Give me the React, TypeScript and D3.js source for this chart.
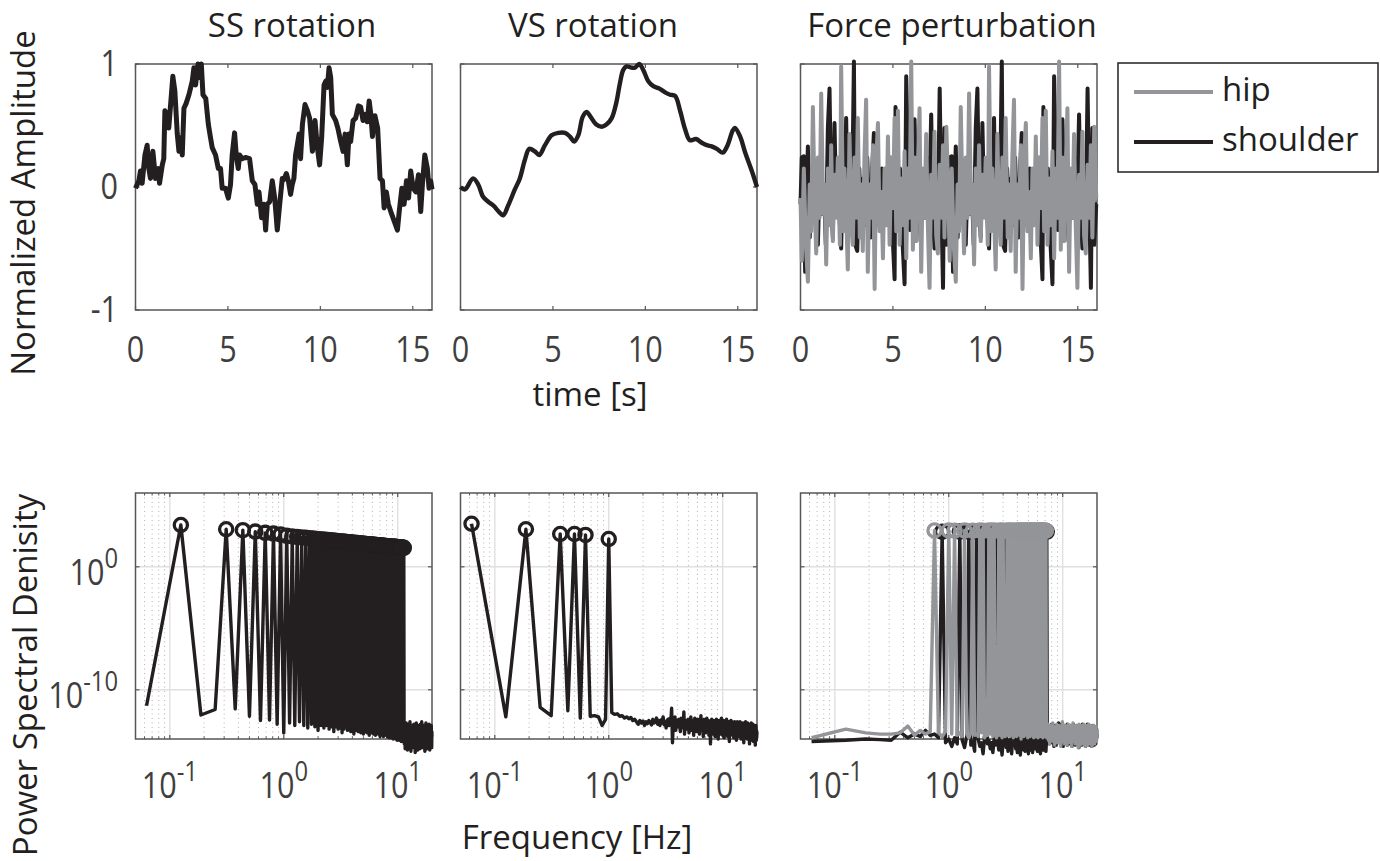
import React from "react";
import * as d3 from "d3";

// ---------------- DATA ----------------
const T_MAX = 16.04; // s
const FREQ_STEP = 0.0625; // Hz, spectral bin width
const N_BINS = 320;
const F_MIN = 0.05;
const F_MAX = 20;

const titles = ["SS rotation", "VS rotation", "Force perturbation"];
const timeTicks = [0, 5, 10, 15];
const ampTicks = [-1, 0, 1];
const freqTicks = [0.1, 1, 10];
const freqTickExp = ["-1", "0", "1"];
const psdTicks = [1e-10, 1];
const psdTickExp = ["-10", "0"];
const legendLabels = ["hip", "shoulder"];

// SS rotation, time series
const ssT = [0,0.18,0.27,0.36,0.51,0.63,0.72,0.81,0.94,1.08,1.23,1.30,1.45,1.53,1.59,1.71,1.80,2.02,2.13,2.26,2.35,2.44,2.53,2.62,2.74,2.89,3.07,3.16,3.25,3.38,3.49,3.56,3.65,3.80,3.94,4.06,4.15,4.33,4.48,4.60,4.69,4.87,5.02,5.14,5.23,5.36,5.45,5.56,5.63,5.77,5.95,6.17,6.32,6.46,6.59,6.68,6.82,6.95,7.04,7.13,7.26,7.40,7.53,7.67,7.80,7.94,
  8.03,8.16,8.27,8.39,8.48,8.57,8.66,8.75,8.85,8.93,9.03,9.17,9.30,9.42,9.57,9.71,9.84,9.96,10.07,10.20,10.29,10.38,10.47,10.56,10.65,10.83,10.96,11.10,11.23,11.34,11.46,11.55,11.64,11.77,11.91,12.06,12.18,12.31,12.42,12.54,12.64,12.73,12.82,12.95,13.10,13.23,13.36,13.45,13.57,13.68,13.81,14.00,14.17,14.26,14.41,14.53,14.66,14.77,14.89,15.02,15.17,15.31,15.43,15.52,15.65,15.79,15.88,15.97,16.04];
const ssV = [-0.01,0.05,0.13,0.03,0.26,0.34,0.15,0.07,0.29,0.07,0.15,0.03,0.18,0.23,0.62,0.59,0.48,0.90,0.78,0.43,0.29,0.40,0.26,0.64,0.68,0.75,0.86,0.97,0.83,1.0,0.89,1.0,0.75,0.72,0.51,0.40,0.32,0.26,0.15,0.15,-0.01,-0.01,-0.09,0.02,0.26,0.44,0.26,0.15,0.26,0.23,0.24,0.23,0.05,0.02,-0.14,-0.04,-0.25,-0.14,-0.35,-0.14,-0.12,0.05,-0.09,-0.35,-0.14,0.07,
  0.06,0.11,0.05,-0.06,0.02,0.07,0.26,0.34,0.43,0.23,0.51,0.67,0.62,0.56,0.29,0.54,0.32,0.18,0.40,0.83,0.86,0.81,0.97,0.89,0.59,0.54,0.47,0.37,0.29,0.43,0.18,0.43,0.37,0.54,0.56,0.66,0.65,0.54,0.59,0.53,0.70,0.59,0.41,0.58,0.48,0.07,0.05,-0.17,-0.04,-0.14,-0.20,-0.28,-0.35,-0.21,-0.01,-0.14,0.05,-0.09,0.13,-0.01,-0.04,0.10,-0.20,0.02,0.26,0.15,-0.01,0.05,-0.02];

// VS rotation, time series
const vsT = [0,0.24,0.68,0.96,1.22,1.5,1.77,2.13,2.31,2.58,2.94,3.21,3.48,3.72,4.02,4.26,4.57,4.93,5.29,5.65,5.92,6.15,6.37,6.61,6.82,7.04,7.33,7.64,7.91,8.18,8.42,8.62,8.8,8.98,9.25,9.43,9.67,9.89,10.16,10.43,10.76,11.07,11.34,11.61,11.88,12.15,12.41,12.74,13.05,13.32,13.59,13.87,14.19,14.45,14.73,14.85,15.13,15.4,15.76,16.04];
const vsV = [0,-0.02,0.07,0.02,-0.08,-0.12,-0.15,-0.21,-0.23,-0.15,-0.02,0.07,0.22,0.31,0.29,0.26,0.34,0.42,0.44,0.44,0.41,0.37,0.42,0.57,0.61,0.57,0.51,0.49,0.51,0.56,0.68,0.84,0.95,0.98,0.97,0.97,1.0,0.95,0.86,0.82,0.80,0.77,0.75,0.74,0.62,0.47,0.38,0.39,0.36,0.34,0.33,0.31,0.28,0.34,0.46,0.48,0.41,0.28,0.13,0.0];

// Force perturbation, one 8 s period (the signal repeats)
const FORCE_PERIOD = 8;
const hipT = [0,0.07,0.18,0.29,0.40,0.50,0.58,0.67,0.76,0.85,0.94,1.03,1.12,1.23,1.30,1.39,1.48,1.59,1.66,1.75,1.84,1.93,2.02,2.13,2.20,2.31,2.38,2.47,2.56,2.65,2.74,2.83,2.92,3.01,3.10,3.21,3.28,3.37,3.46,3.55,3.64,3.73,3.82,3.92,4.01,4.10,4.19,4.28,4.37,4.46,4.55,4.64,4.73,4.82,4.91,5.00,5.09,5.18,5.27,5.36,5.45,5.54,5.63,5.72,5.81,5.90,5.99,6.08,6.17,6.26,6.35,6.44,6.53,6.62,6.71,6.80,6.89,6.98,7.07,7.16,7.25,7.34,7.43,7.53,7.62,7.71,7.79,7.89];
const hipV = [-0.09,-0.60,0.15,-0.47,-0.77,0.02,-0.36,0.65,-0.09,-0.54,0.24,-0.25,0.76,-0.22,0.02,-0.63,0.15,-0.31,0.34,-0.44,0.10,-0.25,0.24,-0.47,0.98,-0.36,0.15,-0.22,-0.67,0.43,-0.25,-0.47,0.24,-0.25,0.56,-0.41,0.02,-0.52,0.24,0.71,-0.69,0.02,-0.25,0.34,-0.83,0.24,0.52,-0.36,-0.04,-0.58,0.15,-0.31,0.41,-0.47,0.24,-0.17,0.56,-0.36,0.62,-0.47,0.07,-0.31,0.29,-0.58,0.15,-0.25,1.02,-0.51,0.24,-0.44,0.15,0.64,-0.69,0.15,-0.25,0.43,-0.31,-0.82,0.10,-0.25,0.45,-0.39,-0.54,0.18,-0.25,0.34,-0.41,0.49];
const shT = [0,0.07,0.18,0.25,0.32,0.40,0.50,0.61,0.72,0.83,0.94,1.05,1.15,1.26,1.37,1.48,1.57,1.66,1.75,1.84,1.93,2.02,2.11,2.20,2.29,2.38,2.47,2.56,2.67,2.78,2.89,2.96,3.07,3.18,3.28,3.39,3.50,3.61,3.70,3.79,3.88,3.97,4.08,4.19,4.29,4.40,4.51,4.62,4.73,4.84,4.96,5.09,5.14,5.27,5.38,5.49,5.63,5.72,5.81,5.92,6.03,6.17,6.28,6.39,6.50,6.60,6.71,6.82,6.93,7.07,7.16,7.25,7.36,7.43,7.53,7.62,7.71,7.79,7.89];
const shV = [-0.14,0.24,0.25,-0.69,-0.09,0.33,-0.41,0.15,-0.25,0.10,-0.47,0.15,-0.22,0.02,-0.47,0.48,0.80,-0.09,-0.41,0.52,-0.17,0.15,-0.25,-0.50,0.24,-0.17,0.56,-0.31,0.15,-0.22,1.02,-0.47,-0.52,0.15,-0.22,0.07,-0.31,0.24,-0.17,-0.41,0.15,0.44,-0.31,0.07,-0.22,0.15,-0.31,0.07,-0.12,0.24,-0.31,-0.75,0.65,-0.25,0.15,-0.35,-0.79,0.90,0.24,-0.35,0.07,0.55,-0.25,0.15,-0.44,0.07,-0.25,0.24,-0.35,0.59,-0.20,-0.50,0.15,-0.25,0.80,-0.14,-0.82,0.48,-0.47];

// PSD, log10 values at bins k = 1..320 (f = k * FREQ_STEP)
const ssPsdLog = [
  -11.3,3.4,-12.05,-11.6,3.05,-11.55,2.98,-12.15,2.86,-12.5,
  2.76,-12.45,2.7,-12.8,2.63,-13.5,2.52,-12.7,2.47,-12.9,
  2.43,-12.6,2.39,-12.9,2.36,-13.1,2.33,-12.8,2.30,-13.0,
  2.27,-13.3,2.24,-12.9,2.22,-13.1,2.20,-12.9,2.17,-13.2,
  2.15,-13.0,2.13,-13.4,2.12,-13.0,2.10,-13.2,2.08,-13.1,
  2.06,-13.5,2.05,-13.2,2.03,-13.0,2.02,-13.3,2.00,-13.1,
  1.99,-13.4,1.98,-13.2,1.96,-13.6,1.95,-13.3,1.94,-13.1,
  1.93,-13.4,1.92,-13.2,1.90,-13.5,1.89,-13.3,1.88,-13.6,
  1.87,-13.4,1.86,-13.2,1.85,-13.5,1.84,-13.3,1.83,-13.7,
  1.82,-13.4,1.82,-13.5,1.81,-13.3,1.80,-13.6,1.79,-13.4,
  1.78,-13.7,1.77,-13.5,1.77,-13.3,1.76,-13.6,1.75,-13.5,
  1.74,-13.8,1.74,-13.4,1.73,-13.6,1.72,-13.5,1.71,-13.8,
  1.71,-13.6,1.70,-13.4,1.69,-13.7,1.69,-13.5,1.68,-13.8,
  1.67,-13.6,1.67,-13.9,1.66,-13.6,1.66,-13.7,1.65,-13.9,
  1.64,-13.6,1.64,-13.8,1.63,-14.0,1.63,-13.7,1.62,-13.9,
  1.62,-13.7,1.61,-14.0,1.61,-13.8,1.60,-14.1,1.60,-13.8,
  1.59,-14.0,1.58,-13.9,1.58,-14.1,1.57,-13.8,1.57,-14.0,
  1.56,-14.2,1.56,-13.9,1.55,-14.1,1.55,-14.0,1.55,-14.2,
  1.54,
  -13.2,-14.4,-13.5,-12.9,-14.8,-13.7,-13.3,-14.1,-12.7,-14.5,
  -13.6,-13.9,-13.1,-14.9,-13.4,-13.8,-12.8,-14.2,-13.5,-14.6,
  -13.2,-13.9,-13.6,-12.6,-14.3,-13.7,-13.4,-15.0,-13.3,-13.8,
  -13.1,-14.4,-13.6,-12.9,-14.1,-13.5,-14.7,-13.2,-13.9,-13.4,
  -12.8,-14.5,-13.7,-13.3,-14.2,-13.6,-15.1,-13.4,-13.0,-14.0,
  -13.5,-12.7,-14.6,-13.8,-13.3,-14.1,-13.6,-13.2,-14.9,-13.5,
  -13.9,-12.9,-14.3,-13.7,-13.4,-14.5,-13.1,-13.8,-13.5,-14.8,
  -13.3,-12.8,-14.0,-13.6,-13.9,-13.2,-14.4,-13.7,-12.6,-14.2,
  -13.5,-13.8,-13.1,-14.7,-13.4,-13.9,-13.3,-14.1,-12.9,-14.6,
  -13.6,-13.2,-14.3,-13.7,-13.5,-15.0,-13.4,-13.0,-14.2,-13.8,
  -13.3,-12.7,-14.5,-13.6,-13.9,-13.2,-14.0,-13.5,-14.8,-13.4,
  -12.9,-14.1,-13.7,-13.3,-14.4,-13.6,-13.1,-13.9,-14.6,-13.5,
  -12.8,-14.2,-13.7,-13.4,-14.9,-13.3,-13.8,-13.0,-14.3,-13.6,
  -13.2,-14.5,-13.7,-12.9,-14.0,-13.5,-14.7,-13.4,-13.8
];

const vsPsdLog = [
  3.5,-12.2,3.05,-11.43,-12.1,2.67,-11.7,2.67,-12.3,2.59,
  -12.15,-12.1,-12.2,-12.9,-12.4,2.26,
  -11.85,-12.0,-11.95,-12.15,-12.1,-12.3,-12.2,-12.35,-12.25,-12.5,
  -12.4,-12.6,-12.8,-12.5,-12.7,-12.55,-12.9,-12.6,-12.75,-12.5,
  -12.65,-12.85,-12.4,-12.7,-12.6,-12.3,-12.8,-12.5,-12.9,-12.45,
  -12.7,-12.2,-12.85,-12.6,-13.1,-12.5,-12.4,-12.9,-12.3,-12.7,
  -11.5,-14.3,-12.6,-12.9,-12.2,-13.3,-12.7,-12.5,-13.0,-12.4,
  -12.9,-13.4,-12.3,-12.8,-12.6,-13.1,-11.8,-13.6,-12.7,-12.9,
  -12.5,-13.2,-12.8,-12.4,-13.5,-12.7,-12.9,-12.2,-13.3,-12.6,
  -13.0,-12.5,-13.7,-12.8,-12.3,-13.1,-12.9,-12.6,-13.4,-12.7,
  -12.4,-13.2,-12.8,-13.6,-12.5,-12.9,-12.1,-13.3,-12.7,-13.0,
  -12.6,-13.8,-12.8,-12.4,-13.1,-12.9,-13.5,-12.6,-13.0,-12.3,
  -13.4,-12.8,-13.1,-12.5,-13.7,-12.9,-12.6,-13.2,-14.4,-12.8,
  -13.0,-12.4,-13.5,-12.9,-13.2,-12.7,-13.6,-12.5,-13.1,-12.9,
  -13.8,-12.6,-13.0,-13.3,-12.4,-13.5,-12.9,-13.1,-12.7,-14.0,
  -12.8,-13.2,-12.5,-13.4,-13.0,-12.6,-13.6,-12.9,-13.2,-12.3,
  -13.5,-12.8,-13.1,-13.7,-12.7,-13.0,-12.5,-13.4,-13.9,-12.8,
  -13.2,-12.6,-13.5,-13.0,-12.9,-13.6,-12.4,-13.3,-13.1,-12.7,
  -13.8,-12.9,-13.2,-12.6,-13.5,-13.0,-14.2,-12.8,-13.3,-12.7,
  -13.4,-13.1,-12.5,-13.6,-12.9,-13.3,-13.0,-12.6,-13.7,-12.8,
  -13.2,-13.5,-12.7,-13.9,-13.0,-12.8,-13.4,-12.6,-13.3,-13.1,
  -12.9,-13.6,-12.7,-13.2,-14.1,-12.8,-13.4,-13.0,-12.6,-13.5,
  -13.1,-12.9,-13.7,-12.7,-13.3,-13.0,-13.8,-12.8,-13.4,-13.2,
  -12.6,-13.6,-13.0,-13.3,-12.8,-14.0,-13.1,-12.7,-13.5,-13.2,
  -12.9,-13.8,-13.0,-13.4,-12.7,-13.6,-13.1,-12.9,-14.3,-13.2,
  -12.8,-13.5,-13.0,-13.7,-12.9,-13.3,-13.1,-12.6,-13.9,-13.2,
  -13.4,-12.8,-13.6,-13.0,-13.3,-12.9,-14.0,-13.2,-12.7,-13.5,
  -13.1,-13.8,-12.9,-13.4,-13.2,-12.8,-13.7,-13.0,-14.4,-13.3,
  -12.9,-13.6,-13.1,-13.4,-12.8,-13.9,-13.2,-13.5,-12.7,-13.7,
  -13.3,-13.0,-14.1,-13.4,-12.9,-13.6,-13.2,-13.8,-12.8,-13.5,
  -13.3,-14.2,-13.0,-13.7,-13.4,-12.9,-13.9,-13.5,-13.2,-14.0,
  -13.4,-13.1,-14.5,-13.6,-13.3,-13.8,-12.9,-13.7,-13.5,-14.1,
  -13.3,-13.9,-13.6,-13.4
];

const hipPsdLog = [
  -13.9,-13.2,-13.5,-13.6,-13.6,-13.5,-12.95,-13.7,-13.3,-13.6,
  -13.4,2.95,-13.5,-13.8,-13.4,2.95,-13.6,2.93,-13.7,-13.5,
  -13.8,2.95,-13.6,-13.9,-13.5,2.94,-13.7,-13.6,-13.8,2.95,
  -13.5,2.93,-13.9,-13.6,-13.7,2.95,-13.6,2.94,-13.8,2.95,
  -13.5,-13.9,-13.6,2.93,-13.7,2.95,-13.9,2.94,-13.6,-13.8,
  -13.5,2.95,-13.7,2.93,-13.8,2.95,-13.6,2.94,-13.9,-13.7,
  -13.5,2.95,-13.8,2.93,-13.6,2.95,-13.7,2.94,-14.0,2.95,
  -13.6,2.93,-13.8,2.95,-13.5,2.94,-13.7,2.95,-13.9,2.93,
  -13.6,2.95,-13.8,2.94,-13.5,2.95,-13.7,2.93,-13.9,2.95,
  -13.6,2.94,-13.8,-13.7,-13.5,2.95,-13.9,2.93,-13.6,2.95,
  -13.8,2.94,-13.5,2.95,-13.7,2.93,-13.9,2.95,-13.6,2.94,
  -13.8,2.95,-13.6,2.93,-13.4,-13.9,-13.2,-13.7,-12.8,-14.1,
  -13.5,-13.3,-14.4,-13.6,-12.9,-13.8,-13.4,-14.0,-13.1,-13.7,
  -12.7,-14.2,-13.5,-13.9,-13.2,-14.5,-13.6,-13.0,-13.8,-13.4,
  -14.1,-12.8,-13.7,-13.5,-14.3,-13.1,-13.9,-13.6,-12.9,-14.0,
  -13.4,-13.8,-13.2,-14.6,-13.5,-13.0,-13.9,-13.7,-12.6,-14.2,
  -13.6,-13.3,-14.0,-13.8,-13.1,-14.4,-13.5,-12.9,-13.9,-13.6,
  -13.2,-14.1,-13.7,-13.4,-14.5,-13.0,-13.8,-13.5,-12.8,-14.2,
  -13.6,-13.9,-13.3,-14.0,-13.7,-13.1,-14.3,-13.5,-12.9,-13.8,
  -13.4,-14.6,-13.6,-13.2,-13.9,-13.7,-12.7,-14.1,-13.5,-13.8,
  -13.3,-14.2,-13.6,-13.0,-13.9,-13.5,-14.4,-13.2,-13.7,-12.9,
  -14.0,-13.6,-13.4,-14.3,-13.8,-13.1,-13.9,-13.5,-14.7,-13.3,
  -13.7,-12.8,-14.1,-13.6,-13.4,-13.9,-13.2,-14.5,-13.7,-13.0,
  -13.8,-13.5,-14.2,-13.3,-12.9,-14.0,-13.6,-13.9,-13.4,-14.4,
  -13.1,-13.7,-13.5,-14.1,-12.8,-13.9,-13.6,-14.3,-13.2,-13.8,
  -13.5,-14.6,-13.3,-13.0,-13.9,-13.7,-14.2,-13.4,-12.9,-13.8,
  -13.6,-14.0,-13.2,-14.5,-13.5,-13.1,-13.9,-13.7,-14.3,-13.4,
  -12.8,-13.8,-13.6,-14.1,-13.3,-13.9,-13.5,-14.4,-13.0,-13.7,
  -13.4,-14.2,-13.6,-12.9,-13.8,-14.0,-13.5,-13.2,-14.6,-13.7,
  -13.3,-13.9,-13.6,-14.1,-13.0,-13.8,-13.5,-14.3,-13.4,-12.9,
  -13.7,-14.0,-13.6,-13.2,-14.4,-13.8,-13.5,-13.1,-13.9,-13.6,
  -14.2,-13.4,-13.7,-13.0,-13.9,-13.5,-14.1,-13.6,-13.3,-13.8
];

const shoulderPsdLog = [
  -14.2,-14.1,-14.0,-14.05,-14.1,-13.45,-13.9,-13.6,-13.8,-13.3,
  -13.7,-13.6,-13.9,2.85,-14.3,-14.0,-14.6,-13.9,-14.4,2.86,
  -14.1,-14.7,-13.8,2.85,-14.5,-14.2,-15.0,2.86,-14.0,-14.6,
  -14.3,-15.2,-13.9,2.85,-14.4,-14.1,-14.8,-14.3,-15.1,-14.0,
  -14.5,2.86,-14.2,-14.9,-13.9,-14.6,-15.3,-14.1,-14.4,2.85,
  -14.7,-14.0,-15.0,-14.3,-14.6,-13.9,-15.2,-14.2,-14.5,2.86,
  -14.1,-14.8,-14.4,-15.1,2.85,-14.0,-14.6,-15.3,-14.2,-14.5,
  2.86,-14.3,-14.9,-14.1,-15.0,-14.4,2.85,-14.7,-14.2,-15.2,
  -14.0,-14.6,2.86,-14.3,-14.9,-14.1,-15.1,-14.5,2.85,-14.2,
  -14.8,-14.0,-14.6,2.86,-14.3,-15.0,-14.4,-14.1,2.85,-14.7,
  -14.2,-15.2,-14.5,-14.0,2.86,-14.6,-14.3,-14.9,-14.1,-14.4,
  2.85,-14.7,-14.2,-15.0,-14.3,2.86,-13.6,-14.1,-13.4,-13.9,
  -13.2,-14.4,-13.7,-13.0,-14.2,-13.5,-13.9,-12.8,-14.3,-13.6,
  -13.4,-14.0,-13.1,-14.6,-13.8,-13.5,-12.9,-14.1,-13.7,-13.3,
  -14.5,-13.6,-13.0,-13.9,-14.2,-13.4,-12.7,-14.0,-13.8,-13.5,
  -14.3,-13.2,-13.9,-13.6,-12.8,-14.4,-13.7,-13.3,-14.1,-13.5,
  -13.0,-14.6,-13.8,-13.4,-14.0,-12.9,-13.6,-14.2,-13.5,-13.9,
  -13.1,-14.3,-13.7,-13.4,-12.8,-14.5,-13.6,-13.9,-13.2,-14.0,
  -13.5,-13.8,-14.4,-13.1,-13.7,-12.9,-14.2,-13.6,-13.4,-14.0,
  -13.3,-13.9,-14.6,-13.5,-13.0,-13.8,-14.1,-13.6,-12.8,-14.3,
  -13.7,-13.4,-14.0,-13.2,-13.9,-14.5,-13.5,-13.1,-13.8,-14.2,
  -13.6,-12.9,-14.0,-13.7,-13.3,-14.4,-13.5,-13.9,-13.0,-14.1,
  -13.6,-14.7,-13.4,-13.8,-12.9,-14.2,-13.5,-13.9,-13.2,-14.3,
  -13.7,-13.0,-14.0,-13.6,-14.5,-13.3,-13.8,-12.8,-14.1,-13.5,
  -13.9,-14.4,-13.2,-13.7,-13.5,-14.0,-12.9,-14.3,-13.6,-13.8,
  -14.1,-13.4,-13.0,-14.6,-13.7,-13.5,-13.9,-14.2,-13.1,-13.8,
  -14.4,-13.6,-12.8,-14.0,-13.5,-13.9,-14.3,-13.2,-13.7,-14.1,
  -13.4,-13.0,-14.5,-13.8,-13.6,-14.2,-12.9,-13.9,-13.5,-14.0,
  -13.3,-14.4,-13.7,-13.1,-14.1,-13.6,-13.8,-14.6,-13.4,-13.0,
  -14.2,-13.7,-13.5,-14.0,-12.9,-13.9,-14.3,-13.6,-13.2,-14.1,
  -13.8,-13.4,-14.5,-13.7,-13.0,-13.9,-14.2,-13.5,-13.3,-14.0,
  -13.6,-14.4,-13.1,-13.8,-13.5,-14.1,-13.7,-13.2,-13.9,-13.6
];

// ---------------- STYLE / LAYOUT ----------------
const BLACK = "#231f20";
const GRAY = "#939598";
const AXIS = "#565656";
const TICKTXT = "#3f3f3f";
const FONT = "'Open Sans', 'Noto Sans', sans-serif";
const LEFTS = [135.5, 460.5, 800.5];
const PW = 296.5;
const TOP_Y = 64;
const BOT_Y = 493;
const PH = 246;
const TICK_FS = 36;
const SUP_FS = 28;
const SX = 0.85;

type P = { x: number; y: number };

function series(ts: number[], vs: number[]): P[] {
  return ts.map((t, i) => ({ x: t, y: vs[i] }));
}
function periodic(ts: number[], vs: number[]): P[] {
  const out: P[] = [];
  for (let p = 0; p * FORCE_PERIOD < T_MAX; p++) {
    ts.forEach((t, i) => {
      const tt = t + p * FORCE_PERIOD;
      if (tt <= T_MAX) out.push({ x: tt, y: vs[i] });
    });
  }
  out.push({ x: T_MAX, y: vs[0] });
  return out;
}
function psd(logs: number[]): P[] {
  return logs.slice(0, N_BINS).map((v, i) => ({ x: (i + 1) * FREQ_STEP, y: Math.pow(10, v) }));
}

function TickText({ x, y, anchor, children }: any) {
  return (
    <text transform={`translate(${x},${y}) scale(${SX},1)`} textAnchor={anchor} fontFamily={FONT} fontSize={TICK_FS} fill={TICKTXT}>
      {children}
    </text>
  );
}

export default function App() {
  const topY = d3.scaleLinear().domain([-1, 1]).range([TOP_Y + PH, TOP_Y]);
  const botY = d3.scaleLog().domain([1e-14, 1e6]).range([BOT_Y + PH, BOT_Y]);
  const topX = LEFTS.map((l) => d3.scaleLinear().domain([0, T_MAX]).range([l, l + PW]));
  const botX = LEFTS.map((l) => d3.scaleLog().domain([F_MIN, F_MAX]).range([l, l + PW]));

  const minorF: number[] = [];
  [0.01, 0.1, 1, 10].forEach((d) => {
    for (let m = 2; m <= 9; m++) {
      const f = m * d;
      if (f > F_MIN * 1.001 && f < F_MAX * 0.999) minorF.push(f);
    }
  });

  const topLine = (i: number) => d3.line<P>().x((d) => topX[i](d.x)).y((d) => topY(d.y));
  const botLine = (i: number) => d3.line<P>().x((d) => botX[i](d.x)).y((d) => botY(d.y));

  const ssData = series(ssT, ssV);
  const vsData = series(vsT, vsV);
  const hipData = periodic(hipT, hipV);
  const shData = periodic(shT, shV);
  const ssPsd = psd(ssPsdLog);
  const vsPsd = psd(vsPsdLog);
  const hipPsd = psd(hipPsdLog);
  const shPsd = psd(shoulderPsdLog);

  const topFrame = (i: number) => {
    const x = topX[i];
    const l = LEFTS[i], r = l + PW;
    return (
      <g key={"tf" + i}>
        <rect x={l} y={TOP_Y} width={PW} height={PH} fill="white" stroke={AXIS} strokeWidth={1.5} />
        {timeTicks.map((t) => (
          <g key={t}>
            <line x1={x(t)} x2={x(t)} y1={TOP_Y + PH} y2={TOP_Y + PH - 4} stroke={AXIS} strokeWidth={1.2} />
            <line x1={x(t)} x2={x(t)} y1={TOP_Y} y2={TOP_Y + 4} stroke={AXIS} strokeWidth={1.2} />
          </g>
        ))}
        {ampTicks.map((a) => (
          <g key={a}>
            <line x1={l} x2={l + 4} y1={topY(a)} y2={topY(a)} stroke={AXIS} strokeWidth={1.2} />
            <line x1={r} x2={r - 4} y1={topY(a)} y2={topY(a)} stroke={AXIS} strokeWidth={1.2} />
          </g>
        ))}
        {timeTicks.map((t) => (
          <TickText key={"l" + t} x={x(t)} y={362} anchor="middle">{String(t)}</TickText>
        ))}
        {i === 0 &&
          ampTicks.map((a) => (
            <TickText key={"a" + a} x={118} y={topY(a) + 12} anchor="end">{String(a)}</TickText>
          ))}
      </g>
    );
  };

  const botFrame = (i: number) => {
    const x = botX[i];
    const l = LEFTS[i], r = l + PW;
    const b = BOT_Y + PH;
    return (
      <g key={"bf" + i}>
        <rect x={l} y={BOT_Y} width={PW} height={PH} fill="white" stroke="none" />
        {minorF.map((f) => (
          <line key={"mg" + f} x1={x(f)} x2={x(f)} y1={BOT_Y} y2={b} stroke="#b4b4b4" strokeWidth={1} strokeDasharray="1 3.5" />
        ))}
        {freqTicks.map((f) => (
          <line key={"g" + f} x1={x(f)} x2={x(f)} y1={BOT_Y} y2={b} stroke="#e0e0e0" strokeWidth={1.4} />
        ))}
        {psdTicks.map((p) => (
          <line key={"gy" + p} x1={l} x2={r} y1={botY(p)} y2={botY(p)} stroke="#e0e0e0" strokeWidth={1.4} />
        ))}
        <rect x={l} y={BOT_Y} width={PW} height={PH} fill="none" stroke={AXIS} strokeWidth={1.5} />
        {minorF.map((f) => (
          <g key={"mt" + f}>
            <line x1={x(f)} x2={x(f)} y1={b} y2={b - 2.5} stroke={AXIS} strokeWidth={1} />
            <line x1={x(f)} x2={x(f)} y1={BOT_Y} y2={BOT_Y + 2.5} stroke={AXIS} strokeWidth={1} />
          </g>
        ))}
        {freqTicks.map((f) => (
          <g key={"t" + f}>
            <line x1={x(f)} x2={x(f)} y1={b} y2={b - 4} stroke={AXIS} strokeWidth={1.2} />
            <line x1={x(f)} x2={x(f)} y1={BOT_Y} y2={BOT_Y + 4} stroke={AXIS} strokeWidth={1.2} />
          </g>
        ))}
        {psdTicks.map((p) => (
          <g key={"ty" + p}>
            <line x1={l} x2={l + 4} y1={botY(p)} y2={botY(p)} stroke={AXIS} strokeWidth={1.2} />
            <line x1={r} x2={r - 4} y1={botY(p)} y2={botY(p)} stroke={AXIS} strokeWidth={1.2} />
          </g>
        ))}
        {freqTicks.map((f, j) => (
          <TickText key={"fl" + f} x={x(f)} y={798} anchor="middle">
            10<tspan fontSize={SUP_FS} dy={-17}>{freqTickExp[j]}</tspan>
          </TickText>
        ))}
        {i === 0 &&
          psdTicks.map((p, j) => (
            <TickText key={"pl" + p} x={118} y={botY(p) + 18} anchor="end">
              10<tspan fontSize={SUP_FS} dy={-17}>{psdTickExp[j]}</tspan>
            </TickText>
          ))}
      </g>
    );
  };

  const circles = (data: P[], i: number, color: string) =>
    data
      .filter((d) => d.y > 1)
      .map((d, j) => (
        <circle key={j} cx={botX[i](d.x)} cy={botY(d.y)} r={6.6} fill="none" stroke={color} strokeWidth={3.3} />
      ));

  return (
    <svg width={1380} height={861} style={{ position: "absolute", left: 0, top: 0, background: "white" }}>
      <rect x={0} y={0} width={1380} height={861} fill="white" />
      {[0, 1, 2].map(topFrame)}
      {[0, 1, 2].map(botFrame)}

      {/* top row data */}
      <path d={topLine(0)(ssData) || ""} fill="none" stroke={BLACK} strokeWidth={5} strokeLinejoin="round" />
      <path d={d3.line<P>().x((d) => topX[1](d.x)).y((d) => topY(d.y)).curve(d3.curveCatmullRom.alpha(0.5))(vsData) || ""} fill="none" stroke={BLACK} strokeWidth={4.4} strokeLinejoin="round" />
      <path d={topLine(2)(shData) || ""} fill="none" stroke={BLACK} strokeWidth={4} strokeLinejoin="round" />
      <path d={topLine(2)(hipData) || ""} fill="none" stroke={GRAY} strokeWidth={4} strokeLinejoin="round" />

      {/* bottom row data */}
      <path d={botLine(0)(ssPsd) || ""} fill="none" stroke={BLACK} strokeWidth={3.4} strokeLinejoin="round" />
      {circles(ssPsd, 0, BLACK)}
      <path d={botLine(1)(vsPsd) || ""} fill="none" stroke={BLACK} strokeWidth={3.4} strokeLinejoin="round" />
      {circles(vsPsd, 1, BLACK)}
      <path d={botLine(2)(shPsd) || ""} fill="none" stroke={BLACK} strokeWidth={3.4} strokeLinejoin="round" />
      {circles(shPsd, 2, BLACK)}
      <path d={botLine(2)(hipPsd) || ""} fill="none" stroke={GRAY} strokeWidth={3.4} strokeLinejoin="round" />
      {circles(hipPsd, 2, GRAY)}

      {/* titles and labels */}
      {titles.map((t, i) => (
        <text key={t} x={[292, 593, 952][i]} y={37} textAnchor="middle" fontFamily={FONT} fontSize={33} fill={BLACK}>{t}</text>
      ))}
      <text transform="translate(35,203) rotate(-90)" textAnchor="middle" fontFamily={FONT} fontSize={33} fill={BLACK}>Normalized Amplitude</text>
      <text transform="translate(37,675) rotate(-90)" textAnchor="middle" fontFamily={FONT} fontSize={33} fill={BLACK}>Power Spectral Denisity</text>
      <text x={590} y={406} textAnchor="middle" fontFamily={FONT} fontSize={33} fill={BLACK}>time [s]</text>
      <text x={577} y={849} textAnchor="middle" fontFamily={FONT} fontSize={33} fill={BLACK}>Frequency [Hz]</text>

      {/* legend */}
      <rect x={1118} y={63} width={260} height={109} fill="white" stroke={BLACK} strokeWidth={1.5} />
      <line x1={1134} x2={1213} y1={92} y2={92} stroke={GRAY} strokeWidth={4} />
      <line x1={1134} x2={1213} y1={142} y2={142} stroke={BLACK} strokeWidth={4} />
      <text x={1222} y={101} fontFamily={FONT} fontSize={33} fill={BLACK}>{legendLabels[0]}</text>
      <text x={1222} y={151} fontFamily={FONT} fontSize={33} fill={BLACK}>{legendLabels[1]}</text>
    </svg>
  );
}
